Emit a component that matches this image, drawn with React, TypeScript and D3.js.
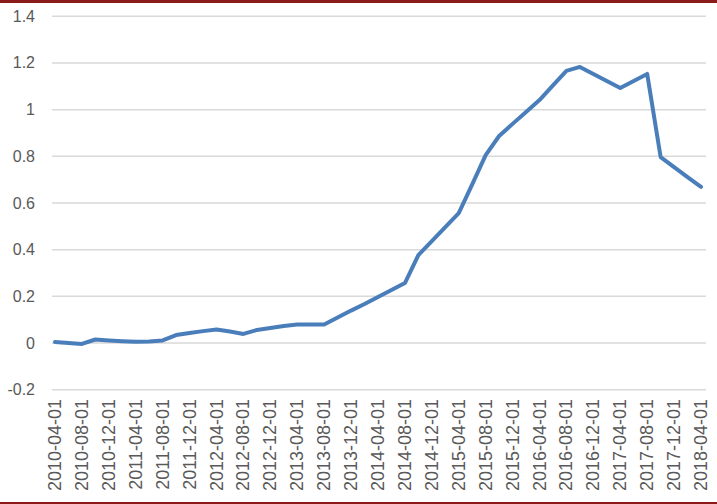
import React from "react";
import * as d3 from "d3";

const dates: string[] = [
  "2010-04-01","2010-06-01","2010-08-01","2010-10-01","2010-12-01","2011-02-01","2011-04-01","2011-06-01","2011-08-01","2011-10-01","2011-12-01","2012-02-01","2012-04-01",
  "2012-06-01","2012-08-01","2012-10-01","2012-12-01","2013-02-01","2013-04-01","2013-06-01","2013-08-01","2013-10-01","2013-12-01","2014-02-01","2014-04-01",
  "2014-06-01","2014-08-01","2014-10-01","2014-12-01","2015-02-01","2015-04-01","2015-06-01","2015-08-01","2015-10-01","2015-12-01","2016-02-01","2016-04-01",
  "2016-06-01","2016-08-01","2016-10-01","2016-12-01","2017-02-01","2017-04-01","2017-06-01","2017-08-01","2017-10-01","2017-12-01","2018-02-01","2018-04-01",
];

const values: number[] = [
  0.004, 0.0, -0.004, 0.015, 0.011, 0.008, 0.005, 0.007, 0.011, 0.034, 0.043, 0.051, 0.058,
  0.049, 0.039, 0.056, 0.064, 0.073, 0.079, 0.079, 0.079, 0.109, 0.139, 0.167, 0.197,
  0.227, 0.257, 0.377, 0.437, 0.497, 0.557, 0.68, 0.805, 0.887, 0.939, 0.99, 1.041,
  1.104, 1.166, 1.183, 1.153, 1.123, 1.093, 1.123, 1.153, 0.797, 0.754, 0.711, 0.669,
];

const xTickLabels: string[] = dates.filter((_, i) => i % 2 === 0);
const yTicks: number[] = [-0.2, 0, 0.2, 0.4, 0.6, 0.8, 1, 1.2, 1.4];

export default function App() {
  const W = 717, H = 504;
  const x = d3.scalePoint<string>().domain(dates).range([55, 701]);
  const y = d3.scaleLinear().domain([-0.2, 1.4]).range([389.7, 16.3]);
  const line = d3
    .line<number>()
    .x((_, i) => x(dates[i]) as number)
    .y((d) => y(d));

  const textColor = "#595959";
  return (
    <svg
      width={W}
      height={H}
      style={{ position: "absolute", left: 0, top: 0, background: "#fff" }}
      fontFamily="'Liberation Sans', Arial, sans-serif"
    >
      <rect x={0} y={0} width={W} height={H} fill="#fff" />
      {yTicks.map((t) => (
        <g key={t}>
          <line x1={52} x2={706} y1={y(t)} y2={y(t)} stroke="#d9d9d9" strokeWidth={1.5} />
          <text
            x={35}
            y={y(t)}
            textAnchor="end"
            dominantBaseline="central"
            fontSize={16}
            fill={textColor}
          >
            {String(t)}
          </text>
        </g>
      ))}
      <path
        d={line(values) || ""}
        fill="none"
        stroke="#4A7EBB"
        strokeWidth={4}
        strokeLinejoin="round"
        strokeLinecap="round"
      />
      {xTickLabels.map((lab) => (
        <text
          key={lab}
          transform={`translate(${x(lab)},399) rotate(-90)`}
          textAnchor="end"
          dominantBaseline="central"
          fontSize={18}
          fill={textColor}
        >
          {lab}
        </text>
      ))}
      <rect x={0} y={0} width={W} height={3} fill="#8B1A1A" />
      <rect x={0} y={502} width={W} height={2} fill="#8B1A1A" />
    </svg>
  );
}
